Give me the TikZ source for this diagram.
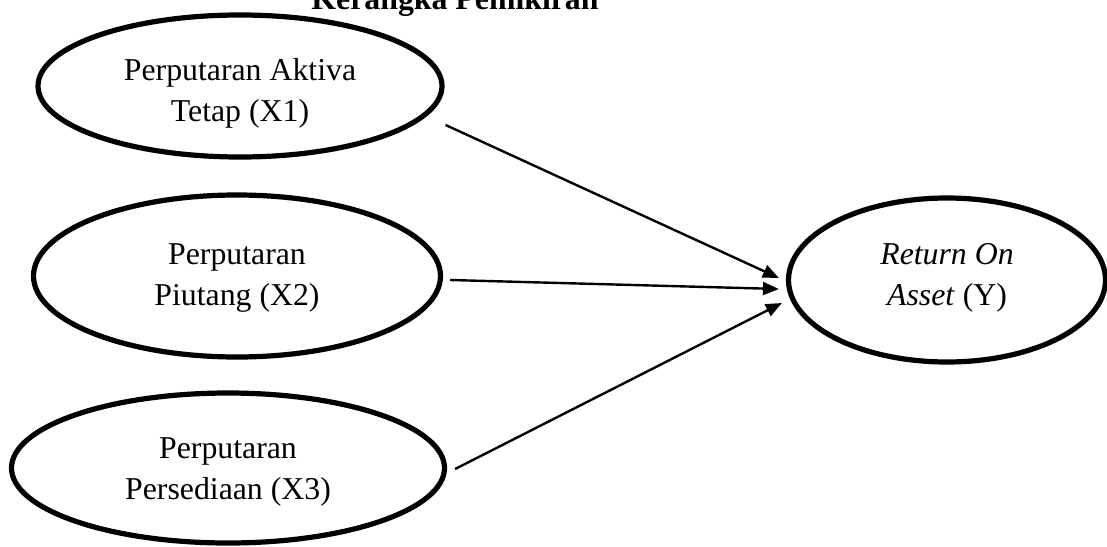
\documentclass[tikz,border=0pt]{standalone}
\usepackage{fontspec}
\setmainfont{Liberation Serif}
\usetikzlibrary{shapes.geometric,arrows.meta,calc}
\begin{document}
\begin{tikzpicture}[x=0.5pt,y=-0.5pt,
  oval/.style={draw,ellipse,line width=2.6pt,inner sep=0pt},
  txt/.style={inner sep=0pt,align=center,font=\fontsize{15.9}{20.5}\selectfont},
  arr/.style={line width=1.2pt,-{Triangle[length=8pt,width=6.5pt]}}]
\useasboundingbox (0,0) rectangle (1107,546);
\node[anchor=base,font=\bfseries\fontsize{15.9}{20.5}\selectfont] (title) at (455,10) {Kerangka Pemikiran};
\node[oval,minimum width=202pt,minimum height=71pt] (x1) at (240,86) {};
\node[oval,minimum width=203.5pt,minimum height=81pt] (x2) at (237,276) {};
\node[oval,minimum width=216.5pt,minimum height=75pt] (x3) at (228,468) {};
\node[oval,minimum width=158.5pt,minimum height=82pt] (y) at (947,280) {};
\node[txt] (t1) at (240,93) {Perputaran Aktiva\\Tetap (X1)};
\node[txt] (t2) at (237,278) {Perputaran\\Piutang (X2)};
\node[txt] (t3) at (228,472) {Perputaran\\Persediaan (X3)};
\node[txt] (ty) at (947,278) {\textit{Return On}\\\textit{Asset} (Y)};
\draw[arr] ($(x1.east)+(1,39)$) -- ($(y.west)+(-7,-2)$);
\draw[arr] ($(x2.east)+(7,4)$) -- ($(y.west)+(-7,9)$);
\draw[arr] ($(x3.east)+(8,1)$) -- ($(y.west)+(-4,23)$);
\end{tikzpicture}
\end{document}
